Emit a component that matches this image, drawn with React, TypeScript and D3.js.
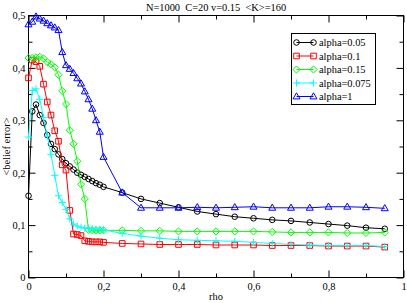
import { useEffect, useRef } from "react";
import * as d3 from "d3";

// rho values (fine grid up to 0.2, then every 0.05)
const rho = [
  0, 0.01, 0.02, 0.03, 0.04, 0.05, 0.06, 0.07, 0.08, 0.09, 0.1, 0.11, 0.12, 0.13, 0.14, 0.15, 0.16, 0.17, 0.18,
  0.19, 0.2, 0.25, 0.3, 0.35, 0.4, 0.45, 0.5, 0.55, 0.6, 0.65, 0.7, 0.75, 0.8, 0.85, 0.9, 0.95,
];

// <belief error> per alpha
const alpha005 = [
  0.156, 0.317, 0.33, 0.31, 0.295, 0.272, 0.255, 0.245, 0.235, 0.226, 0.218, 0.212, 0.206, 0.2, 0.196, 0.192, 0.188,
  0.184, 0.18, 0.177, 0.173, 0.162, 0.15, 0.142, 0.134, 0.126, 0.121, 0.116, 0.113, 0.11, 0.108, 0.105, 0.102, 0.099,
  0.095, 0.093,
];
const alpha01 = [
  0.381, 0.415, 0.412, 0.403, 0.369, 0.335, 0.31, 0.28, 0.26, 0.215, 0.205, 0.128, 0.083, 0.082, 0.08, 0.07, 0.069,
  0.068, 0.068, 0.068, 0.067, 0.065, 0.064, 0.063, 0.063, 0.063, 0.062, 0.062, 0.062, 0.061, 0.061, 0.061, 0.06, 0.06,
  0.06, 0.058,
];
const alpha015 = [
  0.419, 0.419, 0.42, 0.421, 0.418, 0.411, 0.407, 0.401, 0.387, 0.356, 0.331, 0.281, 0.255, 0.222, 0.178, 0.15, 0.091,
  0.09, 0.09, 0.09, 0.09, 0.09, 0.089, 0.089, 0.088, 0.088, 0.088, 0.088, 0.088, 0.087, 0.086, 0.086, 0.086, 0.085,
  0.085, 0.086,
];
const alpha0075 = [
  0.268, 0.357, 0.36, 0.34, 0.305, 0.27, 0.235, 0.195, 0.156, 0.143, 0.13, 0.112, 0.102, 0.098, 0.096, 0.094, 0.094,
  0.093, 0.092, 0.092, 0.091, 0.084, 0.079, 0.075, 0.072, 0.071, 0.07, 0.069, 0.067, 0.065, 0.063, 0.062, 0.061, 0.061,
  0.061, 0.059,
];
const alpha1 = [
  0.483, 0.488, 0.498, 0.494, 0.49, 0.485, 0.481, 0.477, 0.472, 0.43, 0.405, 0.398, 0.39, 0.38, 0.37, 0.355, 0.34,
  0.322, 0.3, 0.278, 0.23, 0.162, 0.133, 0.133, 0.133, 0.134, 0.133, 0.134, 0.135, 0.133, 0.133, 0.133, 0.135, 0.135,
  0.134, 0.132,
];

const seriesNames = ["alpha=0.05", "alpha=0.1", "alpha=0.15", "alpha=0.075", "alpha=1"];
const seriesValues = [alpha005, alpha01, alpha015, alpha0075, alpha1];
const seriesColors = ["#000000", "#ff0000", "#00ff00", "#00ffff", "#0000ff"];
const seriesMarkers = ["circle", "square", "diamond", "plus", "triangle"];

const xTicks = [0, 0.2, 0.4, 0.6, 0.8, 1];
const xTickLabels = ["0", "0,2", "0,4", "0,6", "0,8", "1"];
const xMinorTicks = [0.1, 0.3, 0.5, 0.7, 0.9];
const yTicks = [0, 0.1, 0.2, 0.3, 0.4, 0.5];
const yTickLabels = ["0", "0,1", "0,2", "0,3", "0,4", "0,5"];
const yMinorTicks = [0.05, 0.15, 0.25, 0.35, 0.45];

const title = "N=1000  C=20 v=0.15  <K>=160";

// xmgrace-like hollow symbols
const markerPath = (type: string) => {
  const r = 2.8;
  switch (type) {
    case "circle":
      return `M${-r},0a${r},${r} 0 1,0 ${2 * r},0a${r},${r} 0 1,0 ${-2 * r},0`;
    case "square":
      return "M-2.8,-2.8h5.6v5.6h-5.6z";
    case "diamond":
      return "M0,-3.6L3.6,0L0,3.6L-3.6,0z";
    case "triangle":
      return "M0,-3.7L3.5,2.4H-3.5z";
    default:
      return "M-3.6,0H3.6M0,-3.6V3.6";
  }
};

const App = () => {
  const ref = useRef<SVGSVGElement>(null);

  useEffect(() => {
    const width = 407;
    const height = 303;
    const left = 28.5;
    const right = 403.5;
    const top = 15.5;
    const bottom = 277.5;
    const font = "'Liberation Serif', 'Times New Roman', serif";

    const svg = d3.select(ref.current);
    svg.selectAll("*").remove();
    svg.attr("width", width).attr("height", height);

    const x = d3.scaleLinear().domain([0, 1]).range([left, right]);
    const y = d3.scaleLinear().domain([0, 0.5]).range([bottom, top]);

    svg.append("rect").attr("width", width).attr("height", height).attr("fill", "#fff");

    // axes: inward ticks on all four sides
    const axisStyle = (g: any) => {
      g.select(".domain").remove();
      g.selectAll("line").attr("stroke", "#000");
      g.selectAll("text").attr("font-family", font).attr("font-size", 10.4).attr("fill", "#000");
    };

    svg
      .append("g")
      .attr("transform", `translate(0,${bottom})`)
      .call(d3.axisBottom(x).tickValues(xTicks).tickSize(-7).tickPadding(5).tickFormat((_d, i) => xTickLabels[i]))
      .call(axisStyle);
    svg
      .append("g")
      .attr("transform", `translate(0,${bottom})`)
      .call(d3.axisBottom(x).tickValues(xMinorTicks).tickSize(-4).tickFormat(() => ""))
      .call(axisStyle);
    svg
      .append("g")
      .attr("transform", `translate(0,${top})`)
      .call(d3.axisTop(x).tickValues(xTicks).tickSize(-7).tickFormat(() => ""))
      .call(axisStyle);
    svg
      .append("g")
      .attr("transform", `translate(0,${top})`)
      .call(d3.axisTop(x).tickValues(xMinorTicks).tickSize(-4).tickFormat(() => ""))
      .call(axisStyle);

    svg
      .append("g")
      .attr("transform", `translate(${left},0)`)
      .call(d3.axisLeft(y).tickValues(yTicks).tickSize(-7).tickPadding(3).tickFormat((_d, i) => yTickLabels[i]))
      .call(axisStyle);
    svg
      .append("g")
      .attr("transform", `translate(${left},0)`)
      .call(d3.axisLeft(y).tickValues(yMinorTicks).tickSize(-4).tickFormat(() => ""))
      .call(axisStyle);
    svg
      .append("g")
      .attr("transform", `translate(${right},0)`)
      .call(d3.axisRight(y).tickValues(yTicks).tickSize(-7).tickFormat(() => ""))
      .call(axisStyle);
    svg
      .append("g")
      .attr("transform", `translate(${right},0)`)
      .call(d3.axisRight(y).tickValues(yMinorTicks).tickSize(-4).tickFormat(() => ""))
      .call(axisStyle);

    // frame
    svg
      .append("rect")
      .attr("x", left)
      .attr("y", top)
      .attr("width", right - left)
      .attr("height", bottom - top)
      .attr("fill", "none")
      .attr("stroke", "#000");

    // series
    const line = d3
      .line<[number, number]>()
      .x((d) => x(d[0]))
      .y((d) => y(d[1]));

    seriesValues.forEach((vals, s) => {
      const pts = d3.zip(rho, vals) as [number, number][];
      const g = svg.append("g");
      g.append("path")
        .attr("d", line(pts))
        .attr("fill", "none")
        .attr("stroke", seriesColors[s])
        .attr("stroke-width", 1);
      g.selectAll("path.m")
        .data(pts)
        .join("path")
        .attr("class", "m")
        .attr("transform", (d) => `translate(${x(d[0])},${y(d[1])})`)
        .attr("d", markerPath(seriesMarkers[s]))
        .attr("fill", "none")
        .attr("stroke", seriesColors[s])
        .attr("stroke-width", 1);
    });

    // legend
    const lg = svg.append("g");
    lg.append("rect")
      .attr("x", 291.5)
      .attr("y", 33.5)
      .attr("width", 84)
      .attr("height", 71)
      .attr("fill", "#fff")
      .attr("stroke", "#000");
    seriesNames.forEach((name, s) => {
      const ly = 42.5 + s * 13.5;
      lg.append("line")
        .attr("x1", 296.5)
        .attr("x2", 313.5)
        .attr("y1", ly)
        .attr("y2", ly)
        .attr("stroke", seriesColors[s]);
      [296.5, 313.5].forEach((lx) =>
        lg
          .append("path")
          .attr("transform", `translate(${lx},${ly})`)
          .attr("d", markerPath(seriesMarkers[s]))
          .attr("fill", "none")
          .attr("stroke", seriesColors[s])
      );
      lg.append("text")
        .attr("x", 319)
        .attr("y", ly + 3.6)
        .attr("font-family", font)
        .attr("font-size", 10.4)
        .text(name);
    });

    // title and axis labels
    svg
      .append("text")
      .attr("x", (left + right) / 2)
      .attr("y", 10.5)
      .attr("text-anchor", "middle")
      .attr("font-family", font)
      .attr("font-size", 10.4)
      .style("white-space", "pre")
      .text(title);
    svg
      .append("text")
      .attr("x", (left + right) / 2)
      .attr("y", 299.5)
      .attr("text-anchor", "middle")
      .attr("font-family", font)
      .attr("font-size", 10.4)
      .text("rho");
    svg
      .append("text")
      .attr("transform", `translate(10,${(top + bottom) / 2}) rotate(-90)`)
      .attr("text-anchor", "middle")
      .attr("font-family", font)
      .attr("font-size", 10.4)
      .text("<belief error>");
  }, []);

  return <svg ref={ref} style={{ position: "absolute", left: 0, top: 0, display: "block" }} />;
};

export default App;
